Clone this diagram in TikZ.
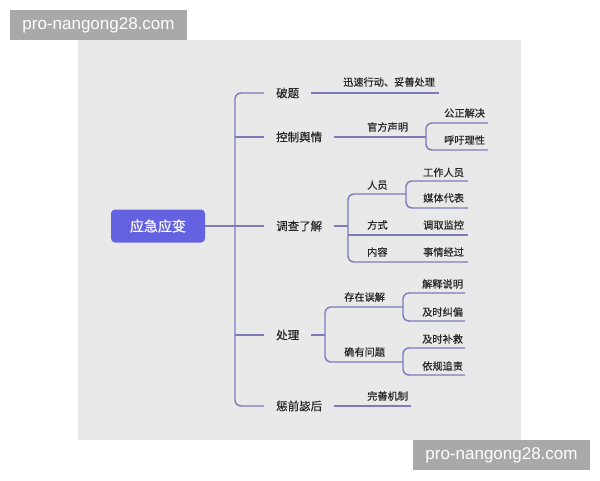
\documentclass[tikz,border=0pt]{standalone}
\usepackage{fontspec}
\setmainfont{Noto Sans CJK SC}[FakeBold=0.5]
\newfontfamily\wmfont{Liberation Sans}
\usetikzlibrary{positioning}
\definecolor{panelc}{HTML}{E9E9EA}
\definecolor{wmc}{HTML}{A9A9A9}
\definecolor{rootc}{HTML}{6462E0}
\definecolor{linec}{HTML}{7D7BBA}
\definecolor{textc}{HTML}{262626}
\tikzset{
    link/.style={draw=linec, line width=1.4pt, rounded corners=6pt},
    wmark/.style={fill=wmc, text=white, minimum width=177pt, minimum height=30pt,
      inner sep=0pt, font=\wmfont\fontsize{17}{20}\selectfont},
    rootbox/.style={fill=rootc, text=white, rounded corners=4pt, minimum width=94pt,
      minimum height=33pt, inner sep=0pt, font=\fontsize{14}{16}\selectfont},
    lone/.style={anchor=west, text=textc, inner xsep=12pt, inner ysep=0pt,
      font=\fontsize{11.5}{14}\selectfont},
    ltwo/.style={anchor=west, text=textc, inner sep=0pt, font=\fontsize{10.2}{12}\selectfont}
}
\begin{document}
\begin{tikzpicture}[x=1pt, y=-1pt]
    \useasboundingbox (0,0) rectangle (600,480);
    \fill[white] (0,0) rectangle (600,480);
    \fill[panelc] (78,40) rectangle (521,440);
    \node[wmark] (w1) at (98.5,25) {pro-nangong28.com};
    \node[wmark] (w2) at (501.5,455) {pro-nangong28.com};
    % root and first level
    \node[rootbox] (r) at (158,226) {应急应变};
    \coordinate (t) at (235,0);
    \node[lone] (a) at (264,93) {破题};
    \node[lone] (b) at (264,137) {控制舆情};
    \node[lone] (c) at (264,226) {调查了解};
    \node[lone] (d) at (264,335) {处理};
    \node[lone] (e) at (264,406) {惩前毖后};
    \draw[link] (a.west) -| (e.west -| t) -- (e.west);
    \draw[link] (b.west -| t) -- (b.west);
    \draw[link] (r.east) -- (c.west);
    \draw[link] (d.west -| t) -- (d.west);
    % 破题
    \coordinate (a1) at (439,93);
    \node[ltwo] (a1l) at (343,82) {迅速行动、妥善处理};
    \draw[link] (a.east) -- (a1);
    % 控制舆情
    \coordinate (bj) at (426,137);
    \coordinate (b11) at (488,123);
    \coordinate (b12) at (488,150);
    \node[ltwo] (b1l) at (367,127) {官方声明};
    \node[ltwo] (b11l) at (444,113) {公正解决};
    \node[ltwo] (b12l) at (444,140) {呼吁理性};
    \draw[link] (b.east) -- (bj);
    \draw[link] (b11) -| (bj |- b12) -- (b12);
    % 调查了解
    \coordinate (cj) at (348,226);
    \coordinate (c1) at (406,194);
    \coordinate (c2) at (468,235);
    \coordinate (c3) at (468,262);
    \coordinate (c11) at (468,181);
    \coordinate (c12) at (468,208);
    \node[ltwo] (c1l) at (367,185) {人员};
    \node[ltwo] (c11l) at (423,172.5) {工作人员};
    \node[ltwo] (c12l) at (423,198) {媒体代表};
    \node[ltwo] (c2l) at (367,225) {方式};
    \node[ltwo] (c21l) at (423,225) {调取监控};
    \node[ltwo] (c3l) at (367,252) {内容};
    \node[ltwo] (c31l) at (423,252) {事情经过};
    \draw[link] (c.east) -- (cj);
    \draw[link] (c1) -| (cj |- c3) -- (c3);
    \draw[link] (cj |- c2) -- (c2);
    \draw[link] (c11) -| (c1 |- c12) -- (c12);
    % 处理
    \coordinate (dj) at (325,335);
    \coordinate (d1) at (403,307);
    \coordinate (d2) at (403,362);
    \coordinate (d11) at (465,293);
    \coordinate (d12) at (465,321);
    \coordinate (d21) at (465,348);
    \coordinate (d22) at (465,375);
    \node[ltwo] (d1l) at (344,297) {存在误解};
    \node[ltwo] (d2l) at (344,352) {确有问题};
    \node[ltwo] (d11l) at (422,284) {解释说明};
    \node[ltwo] (d12l) at (422,312) {及时纠偏};
    \node[ltwo] (d21l) at (422,339) {及时补救};
    \node[ltwo] (d22l) at (422,366) {依规追责};
    \draw[link] (d.east) -- (dj);
    \draw[link] (d1) -| (dj |- d2) -- (d2);
    \draw[link] (d11) -| (d1 |- d12) -- (d12);
    \draw[link] (d21) -| (d2 |- d22) -- (d22);
    % 惩前毖后
    \coordinate (e1) at (411,406);
    \node[ltwo] (e1l) at (367,396) {完善机制};
    \draw[link] (e.east) -- (e1);
\end{tikzpicture}
\end{document}
